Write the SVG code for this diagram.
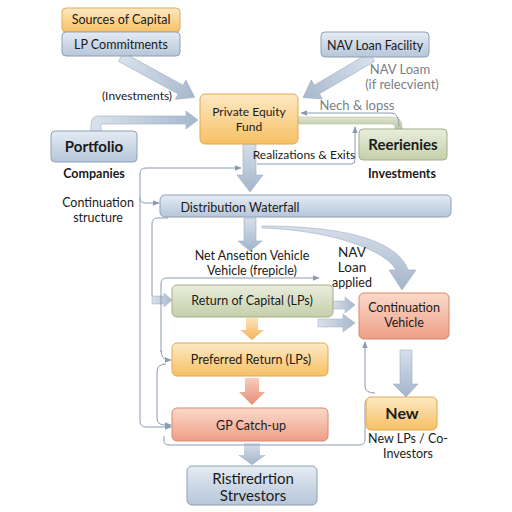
<svg xmlns="http://www.w3.org/2000/svg" width="512" height="512" viewBox="0 0 512 512">
<defs>
<linearGradient id="gOr" x1="0" y1="0" x2="0" y2="1"><stop offset="0" stop-color="#fde9c4"/><stop offset="1" stop-color="#f6c064"/></linearGradient>
<linearGradient id="gBl" x1="0" y1="0" x2="0" y2="1"><stop offset="0" stop-color="#e4ebf3"/><stop offset="1" stop-color="#b6c6d9"/></linearGradient>
<linearGradient id="gGr" x1="0" y1="0" x2="0" y2="1"><stop offset="0" stop-color="#e9eddc"/><stop offset="1" stop-color="#c5cfab"/></linearGradient>
<linearGradient id="gSa" x1="0" y1="0" x2="0" y2="1"><stop offset="0" stop-color="#fbd9cb"/><stop offset="1" stop-color="#ee9f86"/></linearGradient>
<linearGradient id="gArB" x1="0" y1="0" x2="0" y2="1"><stop offset="0" stop-color="#d6dfea"/><stop offset="1" stop-color="#a3b5ca"/></linearGradient>
<linearGradient id="gArBh" x1="0" y1="0" x2="1" y2="0"><stop offset="0" stop-color="#d9e2ec"/><stop offset="1" stop-color="#a7b8cc"/></linearGradient>
<linearGradient id="gArO" x1="0" y1="0" x2="0" y2="1"><stop offset="0" stop-color="#fde3b8"/><stop offset="1" stop-color="#f4b358"/></linearGradient>
<linearGradient id="gArS" x1="0" y1="0" x2="0" y2="1"><stop offset="0" stop-color="#f8cdbd"/><stop offset="1" stop-color="#e68d74"/></linearGradient>
<linearGradient id="gArG" x1="0" y1="0" x2="0" y2="1"><stop offset="0" stop-color="#dfe5cf"/><stop offset="1" stop-color="#b9c4a0"/></linearGradient>
<marker id="ah" viewBox="0 0 10 10" refX="9" refY="5" markerWidth="7" markerHeight="7" orient="auto" markerUnits="userSpaceOnUse"><path d="M0,1 L10,5 L0,9 Z" fill="#8a9bb0"/></marker>
</defs>
<style>
.box{stroke-width:1}
.or{fill:url(#gOr);stroke:#e1a855}
.bl{fill:url(#gBl);stroke:#8fa1b6}
.gr{fill:url(#gGr);stroke:#a3ae88}
.sa{fill:url(#gSa);stroke:#d8866d}
text{font-family:Lato,"Open Sans","Liberation Sans",sans-serif;fill:#1b1b1b;text-anchor:middle}
.t13{font-size:12.5px}
.t12{font-size:12px}
.t15{font-size:15px;font-weight:bold}
.big{font-size:15px}
.gray{fill:#7a7f86;font-size:13px}
.ln{fill:none;stroke:#8a9bb0;stroke-width:1}
.bigB{fill:url(#gArB);stroke:#9eafc3;stroke-width:0.6}
</style>
<rect width="512" height="512" fill="#ffffff"/>

<g id="connectors">
<g transform="translate(121,57) rotate(28.7)"><path d="M0,-5 L68,-5 L68,-11 L84,0 L68,11 L68,5 L0,5 Z" fill="url(#gArBh)" stroke="#9eafc3" stroke-width="0.6"/></g>
<g transform="translate(372,57) rotate(149.5)"><path d="M0,-5 L64,-5 L64,-11 L80,0 L64,11 L64,5 L0,5 Z" fill="url(#gArBh)" stroke="#9eafc3" stroke-width="0.6"/></g>
<path d="M91,131 L91,124 Q91,116 99,116 L186,116 L186,111 L198,120 L186,129 L186,124 L101,124 L101,131 Z" fill="url(#gArBh)" stroke="#9eafc3" stroke-width="0.6"/>
<path d="M298,117 L392,117 Q402,117 402,127 L402,129 L395,129 L395,127 Q395,124 391,124 L298,124 Z" fill="url(#gArG)" stroke="#b0ba98" stroke-width="0.5"/>
<path class="ln" d="M399,126 Q399,113 391,113 L301,113" marker-end="url(#ah)"/>
<path class="ln" d="M257,164 L351,164 Q355,164 355,160 L355,127" marker-end="url(#ah)"/>
<path class="bigB" d="M243,144 L256,144 L256,175 L263,175 L250,192 L237,175 L243,175 Z"/>
<path class="ln" d="M140,300 L140,174 Q140,168 146,168 L241,168" marker-end="url(#ah)"/>
<path class="ln" d="M140,300 L140,421 Q140,427 146,427 L171,427" marker-end="url(#ah)"/>
<path class="ln" d="M140,198 Q140,203 146,203 L159,203" marker-end="url(#ah)"/>
<path class="bigB" d="M244,218 L256,218 L256,241 L262,241 L250,251 L238,241 L244,241 Z"/>
<path class="bigB" d="M262,226 C330,226 396,236 408,270 L416,270 L402,290 L389,270 L396,270 C386,250 330,230 262,228 Z"/>
<path class="ln" d="M168,218 L158,218 Q152,218 152,224 L152,296"/>
<path d="M152,296 L164,296 L164,293 L172,300 L164,307 L164,304 L152,304 Z" fill="url(#gArBh)" stroke="#9eafc3" stroke-width="0.5"/>
<path class="ln" d="M161,352 L161,284 Q161,278 167,278 L319,278" marker-end="url(#ah)"/>
<path class="ln" d="M161,350 Q161,360 169,360 L171,360" marker-end="url(#ah)"/>
<path class="ln" d="M166,364 Q157,364 157,372 L157,418 Q157,425 165,425 L171,425" marker-end="url(#ah)"/>
<path d="M331,301 L345,301 L345,297 L355,305 L345,313 L345,309 L331,309 Z" fill="url(#gArBh)" stroke="#9eafc3" stroke-width="0.5"/>
<path d="M318,319 L343,319 L343,314 L355,323 L343,332 L343,327 L318,327 Z" fill="url(#gArBh)" stroke="#9eafc3" stroke-width="0.5"/>
<path d="M246,318 L258,318 L258,330 L264,330 L252,340 L240,330 L246,330 Z" fill="url(#gArO)"/>
<path d="M245,378 L259,378 L259,392 L265,392 L252,405 L239,392 L245,392 Z" fill="url(#gArS)"/>
<path d="M244,443 L260,443 L260,455 L266,455 L252,465 L238,455 L244,455 Z" fill="url(#gArB)"/>
<path class="bigB" d="M400,350 L412,350 L412,384 L418,384 L406,397 L393,384 L400,384 Z"/>
<path class="ln" d="M164,436 L164,441 Q164,445 170,445 L359,445 Q365,445 365,439 L365,404 Q365,398 371,398"/>
<path class="ln" d="M375,393 Q365,393 365,386 L365,342" marker-end="url(#ah)"/>
</g>

<g id="sources"><rect class="box or" x="62" y="8" width="118" height="24" rx="4"/><text class="t13" x="121" y="24">Sources of Capital</text></g>
<g id="lp"><rect class="box bl" x="62" y="32" width="118" height="24" rx="4"/><text class="t13" x="121" y="49">LP Commitments</text></g>
<g id="nav"><rect class="box bl" x="321" y="32" width="108" height="25" rx="4"/><text class="t13" x="375" y="50">NAV Loan Facility</text></g>
<g id="navlabel"><text class="gray" x="400" y="74">NAV Loam</text><text class="gray" x="402" y="89">(if relecvient)</text></g>
<g id="nechlabel"><text class="gray" x="357" y="110">Nech &amp; lopss</text></g>
<g id="invlabel"><text class="t12" x="137" y="100">(Investments)</text></g>
<g id="fund"><rect class="box or" x="200" y="94" width="98" height="50" rx="5"/><text class="t12" x="249" y="116">Private Equity</text><text class="t12" x="249" y="131">Fund</text></g>
<g id="portfolio"><rect class="box bl" x="51" y="131" width="86" height="31" rx="4"/><text class="t15" x="94" y="152">Portfolio</text><text class="t13" x="94" y="178" style="font-weight:bold">Companies</text></g>
<g id="reer"><rect class="box gr" x="359" y="129" width="88" height="31" rx="4"/><text class="t15" x="403" y="150">Reerienies</text><text class="t13" x="402" y="178" style="font-weight:bold">Investments</text></g>
<g id="realiz"><text class="t12" x="304" y="159">Realizations &amp; Exits</text></g>
<g id="contstruct"><text class="t13" x="98" y="207">Continuation</text><text class="t13" x="98" y="222">structure</text></g>
<g id="dw"><rect class="box bl" x="160" y="195" width="291" height="22" rx="5"/><text class="t13" x="240" y="212">Distribution Waterfall</text></g>
<g id="netlabel"><text class="t13" x="252" y="260">Net Ansetion Vehicle</text><text class="t13" x="252" y="275">Vehicle (frepicle)</text></g>
<g id="navapplied"><text class="t13" x="352" y="257" style="font-size:13.5px">NAV</text><text class="t13" x="352" y="272" style="font-size:13.5px">Loan</text><text class="t13" x="352" y="287">applied</text></g>
<g id="roc"><rect class="box gr" x="172" y="285" width="161" height="32" rx="5"/><text class="t13" x="252" y="305">Return of Capital (LPs)</text></g>
<g id="cv"><rect class="box sa" x="359" y="293" width="90" height="46" rx="5"/><text class="t13" x="404" y="312">Continuation</text><text class="t13" x="404" y="327">Vehicle</text></g>
<g id="pr"><rect class="box or" x="172" y="343" width="156" height="33" rx="5"/><text class="t13" x="251" y="364">Preferred Return (LPs)</text></g>
<g id="gp"><rect class="box sa" x="172" y="408" width="156" height="33" rx="5"/><text class="t13" x="251" y="430">GP Catch-up</text></g>
<g id="new"><rect class="box or" x="366" y="397" width="71" height="33" rx="5"/><text class="t15" x="402" y="419" style="font-size:16px">New</text><text class="t13" x="408" y="443">New LPs / Co-</text><text class="t13" x="408" y="458">Investors</text></g>
<g id="rist"><rect class="box bl" x="187" y="466" width="130" height="39" rx="5"/><text class="big" x="253" y="484">Ristiredrtion</text><text class="big" x="253" y="501">Strvestors</text></g>
</svg>
